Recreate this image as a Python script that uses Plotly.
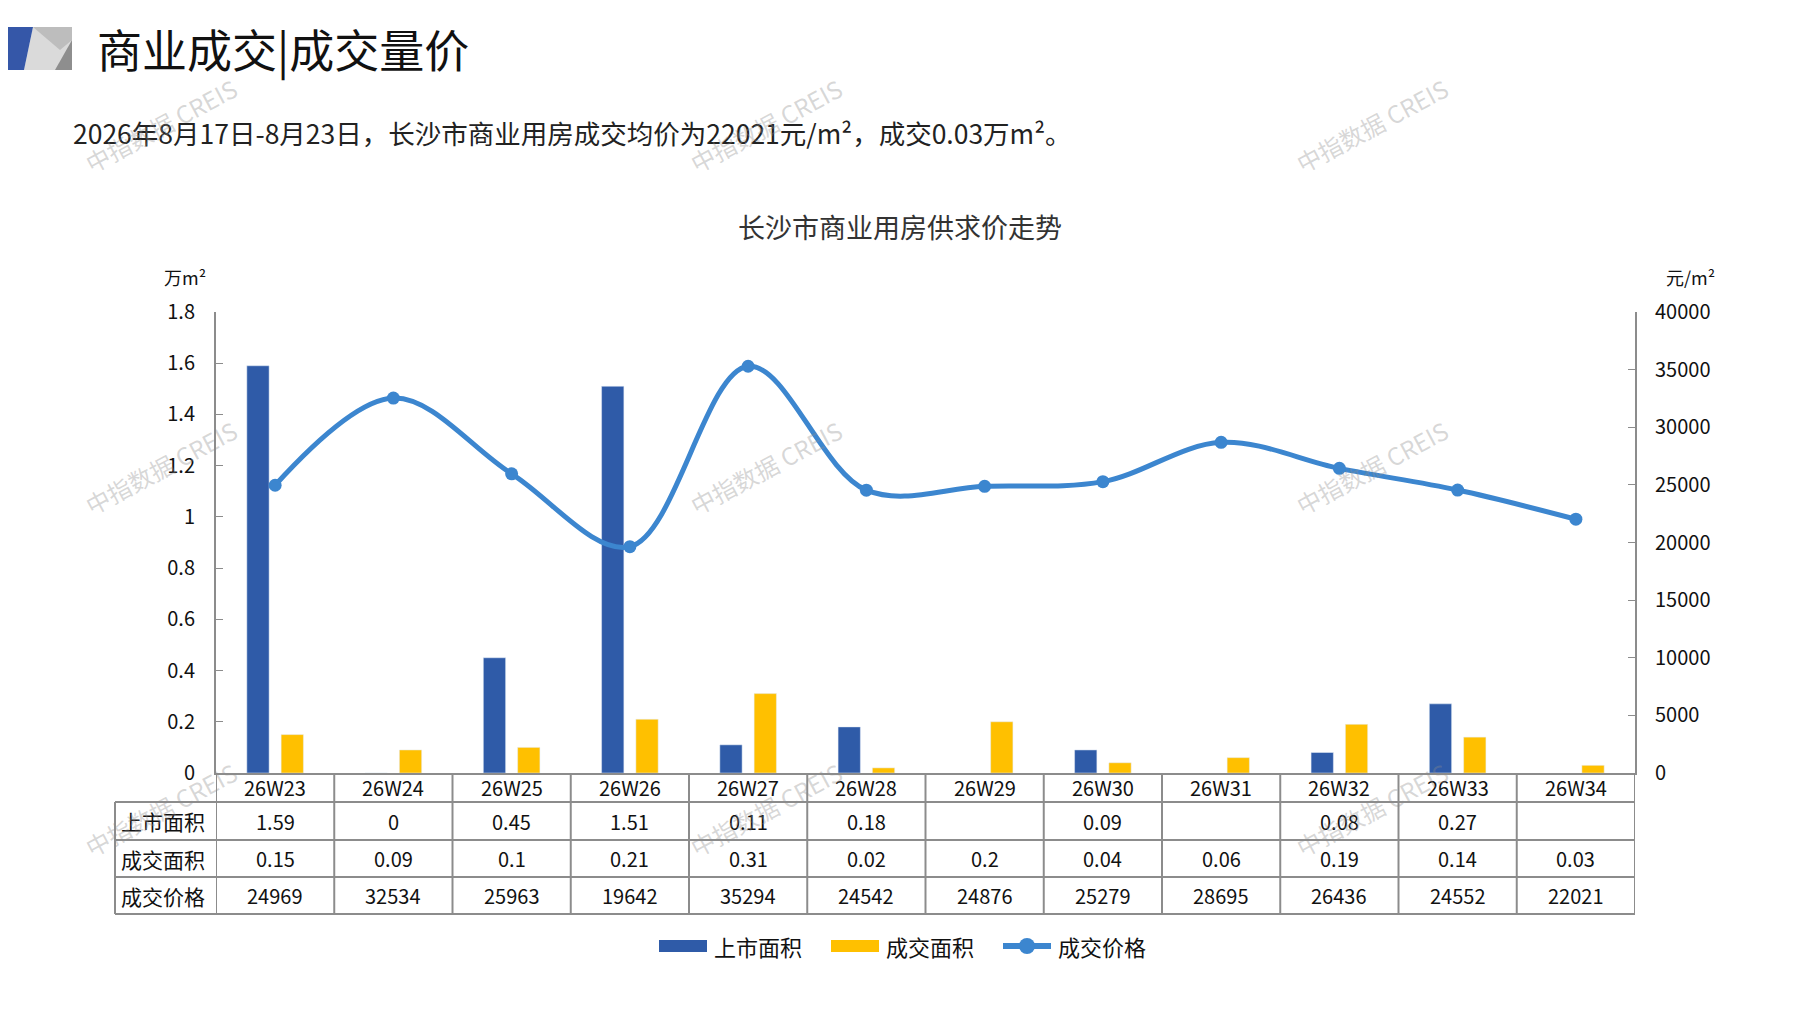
import plotly.graph_objects as go

# ---------------- data ----------------
weeks = ["26W23", "26W24", "26W25", "26W26", "26W27", "26W28",
         "26W29", "26W30", "26W31", "26W32", "26W33", "26W34"]
supply_area = [1.59, 0, 0.45, 1.51, 0.11, 0.18, None, 0.09, None, 0.08, 0.27, None]
deal_area = [0.15, 0.09, 0.1, 0.21, 0.31, 0.02, 0.2, 0.04, 0.06, 0.19, 0.14, 0.03]
deal_price = [24969, 32534, 25963, 19642, 35294, 24542, 24876, 25279, 28695, 26436, 24552, 22021]
series_names = ["上市面积", "成交面积", "成交价格"]
left_ticks = [0, 0.2, 0.4, 0.6, 0.8, 1, 1.2, 1.4, 1.6, 1.8]
right_ticks = [0, 5000, 10000, 15000, 20000, 25000, 30000, 35000, 40000]

# ---------------- layout geometry ----------------
W, H = 1797, 1010
OFF = 8  # browser body margin compensation
ML, MR, MT, MB = 216 - OFF, 162 + OFF, 312 - OFF, 237 + OFF
PW = W - ML - MR
PH = H - MT - MB


def px2x(px):
    return (px - OFF - ML) / PW


def py2y(py):
    return (H - MB - (py - OFF)) / PH


FONT = "Noto Sans CJK SC"
BLUE = "#2F5BA8"
YELLOW = "#FFC000"
LINE = "#3C86CF"
GRID = "#8C8C8C"
TXT = "#111111"

fig = go.Figure()
fig.add_trace(go.Bar(x=weeks, y=supply_area, name=series_names[0], marker_color=BLUE,
                     yaxis="y"))
fig.add_trace(go.Bar(x=weeks, y=deal_area, name=series_names[1], marker_color=YELLOW,
                     yaxis="y"))
fig.add_trace(go.Scatter(x=weeks, y=deal_price, name=series_names[2], yaxis="y2",
                         mode="lines+markers",
                         line=dict(color=LINE, width=5, shape="spline", smoothing=1.0),
                         marker=dict(color=LINE, size=13)))

# ---------------- table ----------------
row_edges_px = [773, 802, 840, 877, 914]  # header / 3 data rows
row_edges = [py2y(p) for p in row_edges_px]
table_left = px2x(115)
shapes = []
for yv in row_edges[1:]:
    shapes.append(dict(type="line", xref="paper", yref="paper", x0=table_left, x1=1,
                       y0=yv, y1=yv, line=dict(color=GRID, width=2)))
for i in range(len(weeks) + 1):
    shapes.append(dict(type="line", xref="x", yref="paper", x0=i - 0.5, x1=i - 0.5,
                       y0=row_edges[0], y1=row_edges[-1], line=dict(color=GRID, width=2)))
shapes.append(dict(type="line", xref="paper", yref="paper", x0=table_left, x1=table_left,
                   y0=row_edges[1], y1=row_edges[-1], line=dict(color=GRID, width=2)))

# ---------------- header banner decoration ----------------
yt, yb = py2y(27), py2y(70)
shapes.append(dict(type="path", xref="paper", yref="paper",
                   path=f"M {px2x(33)},{yt} L {px2x(72)},{yt} L {px2x(72)},{yb} L {px2x(24)},{yb} Z",
                   fillcolor="#DADADA", line=dict(width=0)))
shapes.append(dict(type="path", xref="paper", yref="paper",
                   path=f"M {px2x(33)},{yt} L {px2x(72)},{yt} L {px2x(72)},{py2y(40)} L {px2x(60)},{py2y(50)} Z",
                   fillcolor="#BDBDBD", line=dict(width=0)))
shapes.append(dict(type="path", xref="paper", yref="paper",
                   path=f"M {px2x(72)},{py2y(40)} L {px2x(72)},{yb} L {px2x(55)},{yb} Z",
                   fillcolor="#8E8E8E", line=dict(width=0)))
shapes.append(dict(type="path", xref="paper", yref="paper",
                   path=f"M {px2x(0)},{yt} L {px2x(33)},{yt} L {px2x(24)},{yb} L {px2x(0)},{yb} Z",
                   fillcolor="#3557A8", line=dict(width=0)))

# ---------------- legend (custom, wide swatches) ----------------
ly_mid = py2y(946)
ly_top, ly_bot = py2y(940), py2y(952)
shapes.append(dict(type="rect", xref="paper", yref="paper", x0=px2x(659), x1=px2x(707),
                   y0=ly_bot, y1=ly_top, fillcolor=BLUE, line=dict(width=0)))
shapes.append(dict(type="rect", xref="paper", yref="paper", x0=px2x(831), x1=px2x(879),
                   y0=ly_bot, y1=ly_top, fillcolor=YELLOW, line=dict(width=0)))
shapes.append(dict(type="line", xref="paper", yref="paper", x0=px2x(1003), x1=px2x(1051),
                   y0=ly_mid, y1=ly_mid, line=dict(color=LINE, width=6)))
shapes.append(dict(type="circle", xref="paper", yref="paper", x0=px2x(1019), x1=px2x(1035),
                   y0=py2y(954), y1=py2y(938), fillcolor=LINE, line=dict(width=0)))

annotations = []
for name, lx in zip(series_names, (712, 884, 1056)):
    annotations.append(dict(text=name, xref="paper", yref="paper", x=px2x(lx), y=ly_mid,
                            xanchor="left", yanchor="middle", showarrow=False,
                            font=dict(family=FONT, size=22, color=TXT)))


def fmt(v):
    if v is None:
        return ""
    return f"{v:g}"


rows = [[fmt(v) for v in supply_area], [fmt(v) for v in deal_area],
        [str(v) for v in deal_price]]
for r in range(3):
    yc = (row_edges[r + 1] + row_edges[r + 2]) / 2
    annotations.append(dict(text=series_names[r], xref="paper", yref="paper",
                            x=px2x(119), y=yc, xanchor="left", yanchor="middle",
                            showarrow=False, font=dict(family=FONT, size=21, color=TXT)))
    for i, w in enumerate(weeks):
        annotations.append(dict(text=rows[r][i], xref="x", yref="paper", x=w, y=yc,
                                xanchor="center", yanchor="middle", showarrow=False,
                                font=dict(family=FONT, size=20, color=TXT)))
for i, w in enumerate(weeks):
    annotations.append(dict(text=w, xref="x", yref="paper", x=w,
                            y=(row_edges[0] + row_edges[1]) / 2, xanchor="center",
                            yanchor="middle", showarrow=False,
                            font=dict(family=FONT, size=20, color=TXT)))

# ---------------- titles and units ----------------
annotations += [
    dict(text="商业成交|成交量价", xref="paper", yref="paper", x=px2x(95), y=py2y(49),
         xanchor="left", yanchor="middle", showarrow=False,
         font=dict(family=FONT, size=45, color=TXT)),
    dict(text="2026年8月17日-8月23日，长沙市商业用房成交均价为22021元/m²，成交0.03万m²。",
         xref="paper", yref="paper", x=px2x(71), y=py2y(132), xanchor="left",
         yanchor="middle", showarrow=False, font=dict(family=FONT, size=26.5, color="#222")),
    dict(text="长沙市商业用房供求价走势", xref="paper", yref="paper", x=px2x(900),
         y=py2y(226), xanchor="center", yanchor="middle", showarrow=False,
         font=dict(family=FONT, size=27, color="#333")),
    dict(text="万m²", xref="paper", yref="paper", x=px2x(185), y=py2y(277),
         xanchor="center", yanchor="middle", showarrow=False,
         font=dict(family=FONT, size=18, color=TXT)),
    dict(text="元/m²", xref="paper", yref="paper", x=px2x(1690), y=py2y(277),
         xanchor="center", yanchor="middle", showarrow=False,
         font=dict(family=FONT, size=18, color=TXT)),
]
for wx in (160, 765, 1371):
    for wy in (125, 467, 809):
        annotations.append(dict(text="中指数据 CREIS", xref="paper", yref="paper",
                                x=px2x(wx), y=py2y(wy), xanchor="center", yanchor="middle",
                                showarrow=False, textangle=-28,
                                font=dict(family=FONT, size=24, color="rgba(140,140,140,0.35)")))

fig.update_layout(
    width=W, height=H,
    margin=dict(l=ML, r=MR, t=MT, b=MB, autoexpand=False),
    paper_bgcolor="white", plot_bgcolor="white",
    barmode="group", bargap=0.42, bargroupgap=0.35,
    font=dict(family=FONT, size=19, color=TXT),
    showlegend=False,
    xaxis=dict(type="category", range=[-0.5, len(weeks) - 0.5], showticklabels=False,
               showline=True, linecolor=GRID, linewidth=2, ticks="", showgrid=False,
               zeroline=False, fixedrange=True),
    yaxis=dict(range=[0, 1.8], tickvals=left_ticks, ticktext=[f"{v:g}" for v in left_ticks],
               showline=True, linecolor=GRID, linewidth=2, ticks="inside", ticklen=7,
               tickcolor=GRID, showgrid=False, zeroline=False,
               tickfont=dict(family=FONT, size=20, color=TXT), ticklabelstandoff=15),
    yaxis2=dict(range=[0, 40000], tickvals=right_ticks,
                ticktext=[str(v) for v in right_ticks], overlaying="y", side="right",
                showline=True, linecolor=GRID, linewidth=2, ticks="inside", ticklen=7,
                tickcolor=GRID, showgrid=False, zeroline=False,
                tickfont=dict(family=FONT, size=20, color=TXT), ticklabelstandoff=14),
    shapes=shapes, annotations=annotations,
)

fig.write_html("out.html")
